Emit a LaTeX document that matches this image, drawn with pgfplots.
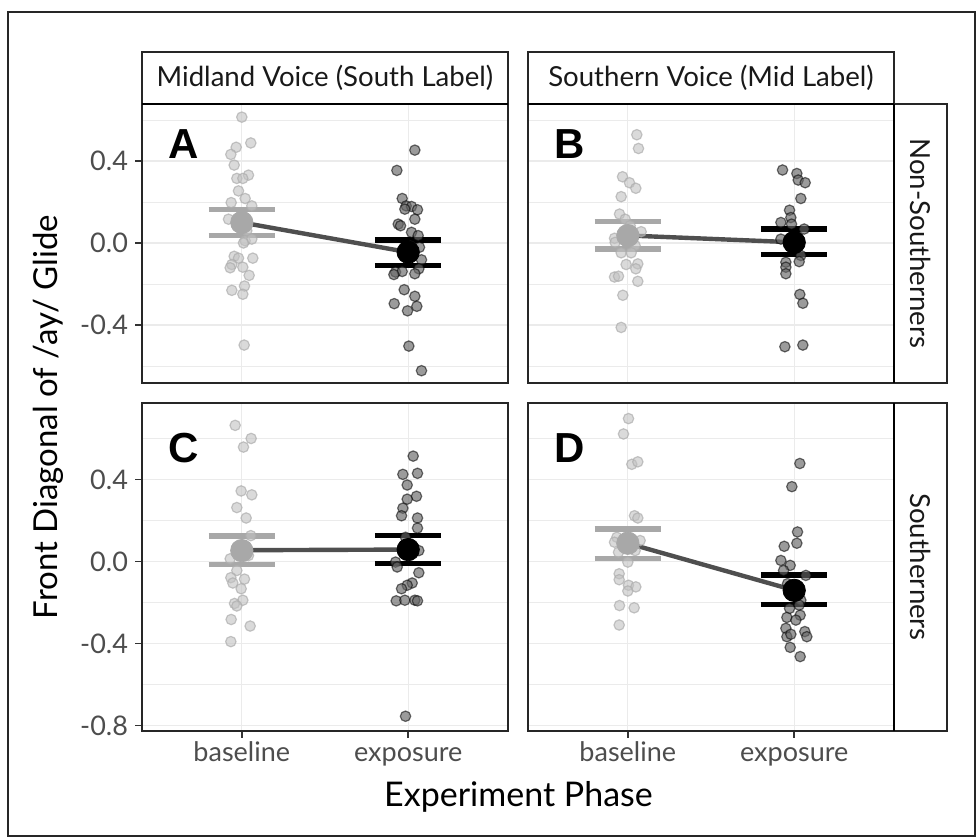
\documentclass[border=0pt]{standalone}
\usepackage{fontspec}
\setmainfont{Lato}
\newfontfamily\lblfont{Liberation Sans}
\usepackage{pgfplots}
\pgfplotsset{compat=1.18}
\definecolor{tickgray}{HTML}{4D4D4D}
\definecolor{gridgray}{HTML}{EBEBEB}
\definecolor{basemean}{HTML}{A8A8A8}
\definecolor{meanline}{HTML}{4F4F4F}
\tikzset{plabel/.style={font=\lblfont\bfseries\fontsize{21}{21}\selectfont, anchor=center}}
\pgfplotsset{
  panel/.style={
    scale only axis, width=183pt, xmin=0.4, xmax=2.6,
    xtick={1,2}, minor ytick={-0.6,-0.2,0.2,0.6},
    grid=both, tick pos=left,
    major grid style={color=gridgray, line width=0.65pt},
    minor grid style={color=gridgray, line width=0.35pt},
    axis line style={line width=0.8pt, color=black!85},
    tick align=outside, major tick length=3.5pt, minor tick length=0pt,
    tick style={color=black!80, line width=0.7pt},
    tick label style={font=\fontsize{13.5}{15}\selectfont, text=tickgray},
    xticklabel style={text height=1.6ex, text depth=0.5ex},
  },
  toprow/.style={panel, height=139.5pt, ymin=-0.683, ymax=0.678,
    ytick={-0.4,0,0.4}, yticklabels={-0.4,0.0,0.4},
    xticklabels={}, xtick style={draw=none}},
  botrow/.style={panel, height=164pt, ymin=-0.827, ymax=0.773,
    ytick={-0.8,-0.4,0,0.4}, yticklabels={-0.8,-0.4,0.0,0.4},
    xticklabels={baseline,exposure}},
  rightcol/.style={yticklabels={}, ytick style={draw=none}},
  basepts/.style={only marks, mark=*, mark size=2.6pt,
    mark options={fill=black!24, fill opacity=0.6, draw=black!32, draw opacity=0.7, line width=0.6pt}},
  exppts/.style={only marks, mark=*, mark size=2.6pt,
    mark options={fill=black!60, fill opacity=0.65, draw=black, draw opacity=0.55, line width=0.6pt}},
  basecap/.style={color=basemean, line width=2.6pt, no marks},
  expcap/.style={color=black, line width=2.6pt, no marks},
  basemeanpt/.style={only marks, mark=*, mark size=5.6pt, mark options={fill=basemean, draw=basemean}},
  expmeanpt/.style={only marks, mark=*, mark size=5.6pt, mark options={fill=black, draw=black}},
  mline/.style={color=meanline, line width=2.2pt, no marks},
}
\begin{document}
\begin{tikzpicture}
\path (0pt,0pt) rectangle (489pt,419.5pt);
\draw[line width=0.6pt, draw=black!85] (4pt,1.5pt) rectangle (487.5pt,413.5pt);

% ---------- Panel A ----------
\begin{axis}[toprow, at={(71pt,228pt)}, anchor=south west]
\addplot[basepts] table {
x y
1.000 0.614
1.054 0.488
0.966 0.467
0.934 0.432
0.954 0.380
1.040 0.331
0.970 0.315
1.006 0.315
0.980 0.254
1.020 0.217
0.936 0.197
1.060 0.181
0.920 0.116
0.970 0.084
1.030 0.060
1.020 0.011
1.060 0.019
1.010 0.000
0.954 -0.065
0.980 -0.074
1.066 -0.074
0.940 -0.105
0.930 -0.121
1.006 -0.118
1.044 -0.158
1.016 -0.210
0.940 -0.231
1.006 -0.250
1.014 -0.498
};
\addplot[exppts] table {
x y
2.040 0.453
1.932 0.354
1.964 0.217
1.988 0.181
2.020 0.178
2.056 0.162
1.980 0.165
2.040 0.116
1.940 0.092
1.954 0.084
2.020 0.052
2.060 0.036
2.068 -0.021
2.014 -0.013
2.080 -0.082
2.064 -0.126
1.924 -0.142
1.964 -0.139
2.040 -0.150
1.914 -0.154
1.976 -0.228
2.040 -0.260
1.916 -0.296
2.052 -0.309
1.996 -0.331
2.004 -0.503
2.080 -0.623
};
\addplot[basecap] coordinates {(0.8,0.165) (1.2,0.165)};
\addplot[basecap] coordinates {(0.8,0.036) (1.2,0.036)};
\addplot[expcap] coordinates {(1.8,0.015) (2.2,0.015)};
\addplot[expcap] coordinates {(1.8,-0.110) (2.2,-0.110)};
\addplot[basemeanpt] coordinates {(1,0.100)};
\addplot[expmeanpt] coordinates {(2,-0.045)};
\addplot[mline] coordinates {(1.02,0.097) (1.98,-0.042)};
\node[plabel] at (rel axis cs:0.115,0.857) {A};
\end{axis}

% ---------- Panel B ----------
\begin{axis}[toprow, rightcol, at={(264pt,228pt)}, anchor=south west]
\addplot[basepts] table {
x y
1.054 0.528
1.064 0.461
0.968 0.323
1.010 0.294
1.048 0.267
0.960 0.226
0.950 0.141
0.984 0.116
1.014 0.084
1.080 0.055
0.920 0.023
0.924 0.003
1.044 -0.013
0.960 -0.048
1.020 -0.048
0.990 -0.105
1.060 -0.102
1.048 -0.126
0.920 -0.166
0.944 -0.162
1.060 -0.187
0.970 -0.255
0.960 -0.412
};
\addplot[exppts] table {
x y
1.930 0.356
2.016 0.339
2.024 0.307
2.066 0.294
2.040 0.217
1.972 0.160
1.980 0.124
1.920 0.100
1.984 0.092
2.060 0.068
1.920 0.019
2.040 -0.061
2.030 -0.091
1.950 -0.094
1.950 -0.118
1.950 -0.150
2.034 -0.251
2.052 -0.294
1.944 -0.506
2.052 -0.498
};
\addplot[basecap] coordinates {(0.8,0.105) (1.2,0.105)};
\addplot[basecap] coordinates {(0.8,-0.029) (1.2,-0.029)};
\addplot[expcap] coordinates {(1.8,0.068) (2.2,0.068)};
\addplot[expcap] coordinates {(1.8,-0.057) (2.2,-0.057)};
\addplot[basemeanpt] coordinates {(1,0.036)};
\addplot[expmeanpt] coordinates {(2,0.003)};
\addplot[mline] coordinates {(1.02,0.036) (1.98,0.004)};
\node[plabel] at (rel axis cs:0.115,0.857) {B};
\end{axis}

% ---------- Panel C ----------
\begin{axis}[botrow, at={(71pt,54pt)}, anchor=south west]
\addplot[basepts] table {
x y
0.960 0.664
1.056 0.600
1.010 0.558
0.996 0.344
1.060 0.325
0.970 0.263
1.026 0.212
1.054 0.126
0.970 0.069
1.020 0.045
1.040 0.029
0.930 0.013
0.970 -0.044
0.934 -0.079
1.016 -0.086
0.946 -0.105
0.996 -0.133
1.006 -0.189
0.956 -0.205
0.970 -0.217
0.936 -0.283
1.050 -0.315
0.934 -0.391
};
\addplot[exppts] table {
x y
2.030 0.514
1.968 0.425
2.056 0.430
1.994 0.373
2.050 0.318
1.994 0.304
1.968 0.260
1.960 0.223
2.056 0.212
2.056 0.163
1.984 0.118
2.064 0.053
1.924 -0.003
1.934 -0.027
2.064 -0.055
2.024 -0.105
1.994 -0.116
1.960 -0.133
1.928 -0.192
1.980 -0.189
2.040 -0.189
2.056 -0.192
1.984 -0.755
};
\addplot[basecap] coordinates {(0.8,0.124) (1.2,0.124)};
\addplot[basecap] coordinates {(0.8,-0.015) (1.2,-0.015)};
\addplot[expcap] coordinates {(1.8,0.126) (2.2,0.126)};
\addplot[expcap] coordinates {(1.8,-0.011) (2.2,-0.011)};
\addplot[basemeanpt] coordinates {(1,0.053)};
\addplot[expmeanpt] coordinates {(2,0.058)};
\addplot[mline] coordinates {(1.02,0.055) (1.98,0.058)};
\node[plabel] at (rel axis cs:0.115,0.864) {C};
\end{axis}

% ---------- Panel D ----------
\begin{axis}[botrow, rightcol, at={(264pt,54pt)}, anchor=south west]
\addplot[basepts] table {
x y
1.004 0.697
0.974 0.622
1.024 0.474
1.060 0.486
1.040 0.223
1.060 0.212
0.934 0.118
0.920 0.094
1.074 0.102
0.984 0.069
1.044 0.053
0.944 0.045
1.000 -0.003
0.948 -0.060
0.948 -0.089
1.004 -0.116
1.048 -0.124
1.000 -0.144
0.950 -0.215
1.038 -0.226
0.948 -0.310
};
\addplot[exppts] table {
x y
2.034 0.478
1.986 0.365
2.020 0.144
2.016 0.089
1.940 0.074
1.920 0.005
1.976 -0.019
2.070 -0.068
1.936 -0.044
1.960 -0.108
2.040 -0.189
2.030 -0.213
1.972 -0.229
1.956 -0.273
2.036 -0.262
2.010 -0.286
1.950 -0.326
2.064 -0.342
1.956 -0.367
1.980 -0.355
2.076 -0.367
1.976 -0.419
2.036 -0.464
};
\addplot[basecap] coordinates {(0.8,0.158) (1.2,0.158)};
\addplot[basecap] coordinates {(0.8,0.013) (1.2,0.013)};
\addplot[expcap] coordinates {(1.8,-0.066) (2.2,-0.066)};
\addplot[expcap] coordinates {(1.8,-0.208) (2.2,-0.208)};
\addplot[basemeanpt] coordinates {(1,0.089)};
\addplot[expmeanpt] coordinates {(2,-0.141)};
\addplot[mline] coordinates {(1.02,0.084) (1.98,-0.136)};
\node[plabel] at (rel axis cs:0.115,0.864) {D};
\end{axis}

% ---------- strips ----------
\begin{scope}[every node/.style={font=\fontsize{13.8}{15}\selectfont, text=black!90}]
\draw[fill=white, line width=0.6pt, draw=black!85] (71pt,367.5pt) rectangle (254pt,393.5pt);
\draw[fill=white, line width=0.6pt, draw=black!85] (264pt,367.5pt) rectangle (447pt,393.5pt);
\node at (162.5pt,380.5pt) {Midland Voice (South Label)};
\node at (355.5pt,380.5pt) {Southern Voice (Mid Label)};
\draw[fill=white, line width=0.6pt, draw=black!85] (447pt,228pt) rectangle (473.5pt,367.5pt);
\draw[fill=white, line width=0.6pt, draw=black!85] (447pt,54pt) rectangle (473.5pt,218pt);
\node[rotate=-90] at (460.25pt,297.75pt) {Non-Southerners};
\node[rotate=-90] at (460.25pt,136pt) {Southerners};
\end{scope}
\draw[line width=0.9pt, draw=black] (71pt,367.5pt) -- (254pt,367.5pt);
\draw[line width=0.9pt, draw=black] (264pt,367.5pt) -- (447pt,367.5pt);
\draw[line width=0.9pt, draw=black] (447pt,228pt) -- (447pt,367.5pt);
\draw[line width=0.9pt, draw=black] (447pt,54pt) -- (447pt,218pt);

% ---------- axis titles ----------
\node[font=\fontsize{17}{19}\selectfont] at (259.25pt,21pt) {Experiment Phase};
\node[font=\fontsize{16.5}{18}\selectfont, rotate=90] at (24pt,211pt) {Front Diagonal of /ay/ Glide};
\end{tikzpicture}
\end{document}
